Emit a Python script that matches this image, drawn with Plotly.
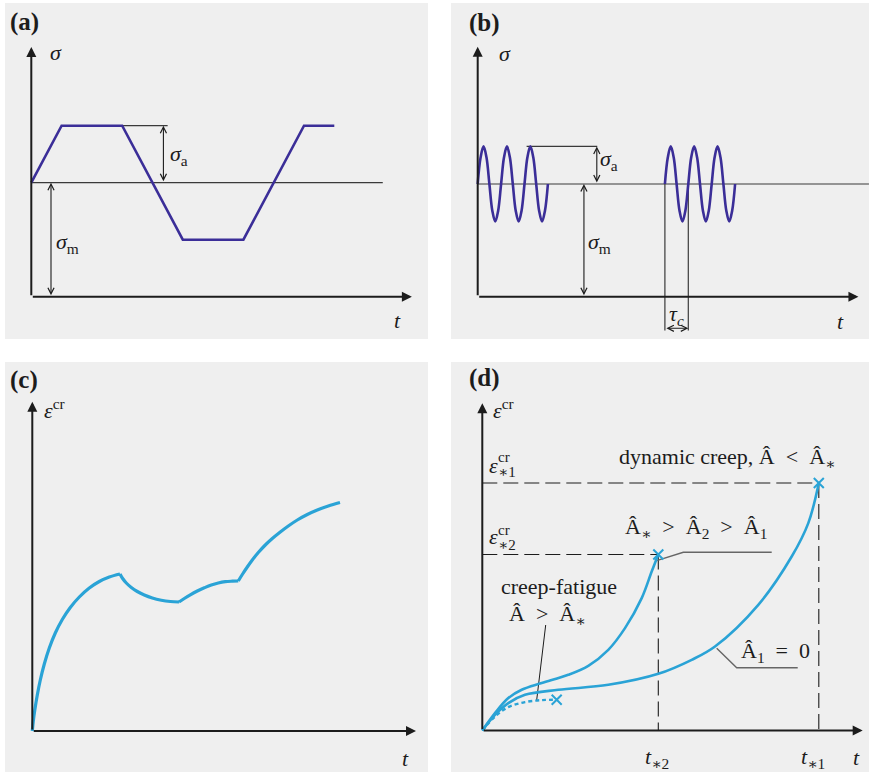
import plotly.graph_objects as go

# ---------------------------------------------------------------- data
# (a) trapezoidal stress cycle about a mean stress
a_time = [0, 1, 3, 5, 7, 9, 10]
a_stress = [2, 3, 3, 1, 1, 3, 3]
a_mean = 2.0
a_amp = 1.0

# (b) two blocks of harmonic stress cycles, sampled every eighth of a period
b_time_1 = [0, 0.125, 0.25, 0.375, 0.5, 0.625, 0.75, 0.875,
            1, 1.125, 1.25, 1.375, 1.5, 1.625, 1.75, 1.875,
            2, 2.125, 2.25, 2.375, 2.5, 2.625, 2.75, 2.875, 3]
b_time_2 = [8, 8.125, 8.25, 8.375, 8.5, 8.625, 8.75, 8.875,
            9, 9.125, 9.25, 9.375, 9.5, 9.625, 9.75, 9.875,
            10, 10.125, 10.25, 10.375, 10.5, 10.625, 10.75, 10.875, 11]
b_stress = [3, 3.71, 4, 3.71, 3, 2.29, 2, 2.29,
            3, 3.71, 4, 3.71, 3, 2.29, 2, 2.29,
            3, 3.71, 4, 3.71, 3, 2.29, 2, 2.29, 3]
b_mean = 3.0
b_amp = 1.0
b_period = 1.0

# (c) creep strain history, four branches between load changes
c_t1 = [0, 0.1, 0.25, 0.5, 0.8, 1.2, 1.7, 2.3, 3.0, 3.8, 4.7, 5.7, 6.7, 7.7, 8.77]
c_e1 = [0, 1.0, 2.1, 3.6, 5.1, 6.7, 8.3, 9.8, 11.15, 12.35, 13.4, 14.3, 14.95, 15.4,
        15.7]
c_t2 = [8.77, 9.0, 9.4, 9.9, 10.5, 11.2, 12.0, 12.9, 13.8, 14.67]
c_e2 = [15.7, 15.3, 14.8, 14.35, 13.95, 13.6, 13.3, 13.08, 12.95, 12.9]
c_t3 = [14.67, 15.2, 15.8, 16.5, 17.2, 17.9, 18.6, 19.3, 20.0, 20.6]
c_e3 = [12.9, 13.25, 13.62, 14.0, 14.32, 14.6, 14.8, 14.93, 14.98, 15.0]
c_t4 = [20.6, 21.0, 21.5, 22.0, 22.6, 23.3, 24.0, 24.8, 25.6, 26.5, 27.5, 28.5, 29.6,
        30.77]
c_e4 = [15.0, 15.65, 16.4, 17.1, 17.85, 18.6, 19.25, 19.9, 20.5, 21.1, 21.65, 22.1,
        22.5, 22.85]

# (d) creep curves for increasing cyclic amplitude
d_t_zero = [0, 1.27, 2.6, 4.27, 7.6, 12.6, 17.6, 20.94, 23.27, 27.6, 30.94, 32.6, 33.65]
d_e_zero = [0, 1.57, 2.74, 3.57, 4.07, 4.57, 5.67, 7.07, 8.4, 12.57, 17.4, 20.74, 24.75]
d_t_mid = [0, 1.27, 2.6, 3.94, 5.94, 8.6, 10.6, 12.6, 14.27, 15.94, 16.94, 17.6]
d_e_mid = [0, 1.74, 3.24, 4.07, 4.74, 5.57, 6.47, 8.07, 10.24, 13.24, 15.9, 17.6]
d_t_cf = [0, 1.27, 2.6, 4.27, 5.94, 7.44]
d_e_cf = [0, 1.4, 2.34, 2.84, 3.04, 3.07]
d_t_star = [33.65, 17.6]      # rupture times t*1, t*2
d_e_star = [24.75, 17.6]      # rupture strains eps*1, eps*2

# ---------------------------------------------------------------- style
W, H = 869, 772
BG = "#efefef"
INK = "#1c1c1c"
THIN = "#3a3a3a"
PURPLE = "#3b2e98"
BLUE = "#2aa3d6"
FONT = "Liberation Serif, Times New Roman, DejaVu Serif, serif"
FS = 22
SP = "\u2002"   # en space around relation signs

# panel boxes in pixels (left, top, right, bottom)
boxes = {
    1: (5, 3, 428, 339),
    2: (451, 3, 869, 339),
    3: (5, 362, 428, 772),
    4: (451, 362, 869, 772),
}
# pixel position of each panel origin and pixels per data unit (x, y)
origins = {1: (31.3, 296.7), 2: (477.7, 296.7), 3: (32.3, 731.0), 4: (482.3, 730.5)}
scales = {1: (30.3, 57.0), 2: (23.4, 37.57), 3: (10.0, 10.0), 4: (10.0, 10.0)}


def ranges(i):
    l, t, r, b = boxes[i]
    ox, oy = origins[i]
    sx, sy = scales[i]
    return [(l - ox) / sx, (r - ox) / sx], [(oy - b) / sy, (oy - t) / sy]


def ref(i):
    return ("x", "y") if i == 1 else (f"x{i}", f"y{i}")


fig = go.Figure()
layout_axes = {}
for i, (l, t, r, b) in boxes.items():
    xr, yr = ranges(i)
    xn = "xaxis" if i == 1 else f"xaxis{i}"
    yn = "yaxis" if i == 1 else f"yaxis{i}"
    xa, ya = ref(i)
    layout_axes[xn] = dict(domain=[l / W, r / W], range=xr, visible=False,
                           anchor=ya, fixedrange=True)
    layout_axes[yn] = dict(domain=[1 - b / H, 1 - t / H], range=yr, visible=False,
                           anchor=xa, fixedrange=True)


def line(i, xs, ys, color=INK, width=1.0, dash="solid", shape="linear"):
    xa, ya = ref(i)
    fig.add_trace(go.Scatter(x=xs, y=ys, xaxis=xa, yaxis=ya, mode="lines",
                             line=dict(color=color, width=width, dash=dash,
                                       shape=shape, smoothing=1.0),
                             hoverinfo="skip", showlegend=False))


annotations = []


def arrow(i, x0, y0, x1, y1, head=2, width=2.0, size=1.0, color=INK, both=False):
    xa, ya = ref(i)
    d = dict(xref=xa, yref=ya, axref=xa, ayref=ya, x=x1, y=y1, ax=x0, ay=y0,
             text="", showarrow=True, arrowhead=head, arrowsize=size,
             arrowwidth=width, arrowcolor=color)
    if both:
        d.update(arrowside="end+start", startarrowhead=head, startarrowsize=size)
    annotations.append(d)


def text(i, x, y, s, size=FS, xanchor="center", yanchor="middle", color=INK):
    xa, ya = ref(i)
    annotations.append(dict(xref=xa, yref=ya, x=x, y=y, text=s, showarrow=False,
                            xanchor=xanchor, yanchor=yanchor,
                            font=dict(family=FONT, size=size, color=color)))


def axes(i, xtip, ytip):
    arrow(i, 0, 0, xtip, 0)
    arrow(i, 0, 0, 0, ytip)


# ---------------------------------------------------------------- (a)
line(1, [0, 11.6], [a_mean, a_mean], color=THIN, width=1.2)
line(1, [3, 4.5], [a_mean + a_amp] * 2, color=THIN, width=1.2)
line(1, a_time, a_stress, color=PURPLE, width=2.6)
arrow(1, 4.36, a_mean, 4.36, a_mean + a_amp, head=5, width=1.1, size=1.1, both=True)
arrow(1, 0.65, 0, 0.65, a_mean, head=5, width=1.1, size=1.1, both=True)
axes(1, 12.56, 4.38)
text(1, 0.55, 4.29, "<i>σ</i>", xanchor="left")
text(1, 4.52, 2.49, "<i>σ</i><sub>a</sub>", xanchor="left")
text(1, 0.76, 0.94, "<i>σ</i><sub>m</sub>", xanchor="left")
text(1, 12.07, -0.41, "<i>t</i>")

# ---------------------------------------------------------------- (b)
line(2, [0, 16.72], [b_mean, b_mean], color=THIN, width=1.2)
line(2, [2.09, 5.11], [b_mean + b_amp] * 2, color=THIN, width=1.2)
tau0 = b_time_2[0]
line(2, [tau0, tau0], [b_mean, -0.9], color=THIN, width=1.2)
line(2, [tau0 + b_period, tau0 + b_period], [b_mean, -0.9], color=THIN, width=1.2)
line(2, b_time_1, b_stress, color=PURPLE, width=2.6, shape="spline")
line(2, b_time_2, b_stress, color=PURPLE, width=2.6, shape="spline")
arrow(2, 5.09, b_mean, 5.09, b_mean + b_amp, head=5, width=1.1, size=1.1, both=True)
arrow(2, 4.54, 0, 4.54, b_mean, head=5, width=1.1, size=1.1, both=True)
arrow(2, tau0, -0.84, tau0 + b_period, -0.84, head=5, width=1.1, size=1.1, both=True)
axes(2, 16.27, 6.65)
text(2, 0.83, 6.48, "<i>σ</i>", xanchor="left")
text(2, 5.15, 3.64, "<i>σ</i><sub>a</sub>", xanchor="left")
text(2, 4.63, 1.43, "<i>σ</i><sub>m</sub>", xanchor="left")
text(2, 8.51, -0.49, "<i>τ</i><sub><i>c</i></sub>")
text(2, 15.5, -0.665, "<i>t</i>")

# ---------------------------------------------------------------- (c)
for xs, ys in [(c_t1, c_e1), (c_t2, c_e2), (c_t3, c_e3), (c_t4, c_e4)]:
    line(3, xs, ys, color=BLUE, width=3.2, shape="spline")
axes(3, 38.37, 32.93)
text(3, 1.0, 32.2, "<i>ε</i><sup>cr</sup>", xanchor="left")
text(3, 37.27, -2.73, "<i>t</i>")

# ---------------------------------------------------------------- (d)
t1, t2 = d_t_star
e1, e2 = d_e_star
DASH = "15px,6px"
line(4, [0, t1], [e1, e1], color=INK, width=1.1, dash=DASH)
line(4, [t1, t1], [e1, 0], color=INK, width=1.1, dash=DASH)
line(4, [0, t2], [e2, e2], color=INK, width=1.1, dash=DASH)
line(4, [t2, t2], [e2, 0], color=INK, width=1.1, dash=DASH)
# leader lines to the curve labels
line(4, [17.44, 20.1, 28.94], [16.98, 17.82, 17.82], color="#666666", width=1.4)
line(4, [23.44, 25.44, 31.54], [8.22, 6.28, 6.28], color="#666666", width=1.4)
line(4, [6.34, 5.44], [10.55, 3.05], color=INK, width=1.0)
line(4, d_t_zero, d_e_zero, color=BLUE, width=2.6, shape="spline")
line(4, d_t_mid, d_e_mid, color=BLUE, width=2.6, shape="spline")
line(4, d_t_cf, d_e_cf, color=BLUE, width=2.4, dash="4px,3px", shape="spline")
fig.add_trace(go.Scatter(
    x=[d_t_zero[-1], d_t_mid[-1], d_t_cf[-1]],
    y=[d_e_zero[-1], d_e_mid[-1], d_e_cf[-1]],
    xaxis="x4", yaxis="y4", mode="markers",
    marker=dict(symbol="x-thin", size=10, line=dict(color=BLUE, width=2)),
    hoverinfo="skip", showlegend=False))
axes(4, 38.04, 32.72)
text(4, 0.87, 32.2, "<i>ε</i><sup>cr</sup>", xanchor="left")
text(4, 0.5, 26.55, "<i>ε</i>", xanchor="left")
text(4, 1.37, 27.32, "cr", size=15, xanchor="left")
text(4, 1.37, 25.82, "∗1", size=15, xanchor="left")
text(4, 0.5, 19.38, "<i>ε</i>", xanchor="left")
text(4, 1.37, 20.05, "cr", size=15, xanchor="left")
text(4, 1.37, 18.55, "∗2", size=15, xanchor="left")
text(4, 24.52, 27.22, f"dynamic creep, Â{SP}&lt;{SP}Â<sub>∗</sub>")
text(4, 21.35, 20.22, f"Â<sub>∗</sub>{SP}&gt;{SP}Â<sub>2</sub>{SP}&gt;{SP}Â<sub>1</sub>")
text(4, 7.69, 14.38, "creep-fatigue")
text(4, 6.52, 11.55, f"Â{SP}&gt;{SP}Â<sub>∗</sub>")
text(4, 29.35, 7.88, f"Â<sub>1</sub>{SP}={SP}0")
text(4, 17.5, -2.75, "<i>t</i><sub>∗2</sub>")
text(4, 33.1, -2.75, "<i>t</i><sub>∗1</sub>")
text(4, 37.44, -2.65, "<i>t</i>")

# ---------------------------------------------------------------- panel letters
for name, (px, py) in {"(a)": (8, 22), "(b)": (467, 23), "(c)": (8, 380), "(d)": (467, 378)}.items():
    annotations.append(dict(xref="paper", yref="paper", x=px / W, y=1 - py / H,
                            text=f"<b>{name}</b>", showarrow=False,
                            xanchor="left", yanchor="middle",
                            font=dict(family=FONT, size=25, color=INK)))

fig.update_layout(
    width=W, height=H, margin=dict(l=0, r=0, t=0, b=0),
    paper_bgcolor="white", plot_bgcolor=BG, showlegend=False,
    font=dict(family=FONT, size=FS, color=INK),
    annotations=annotations, **layout_axes,
)

fig.write_html("out.html")
